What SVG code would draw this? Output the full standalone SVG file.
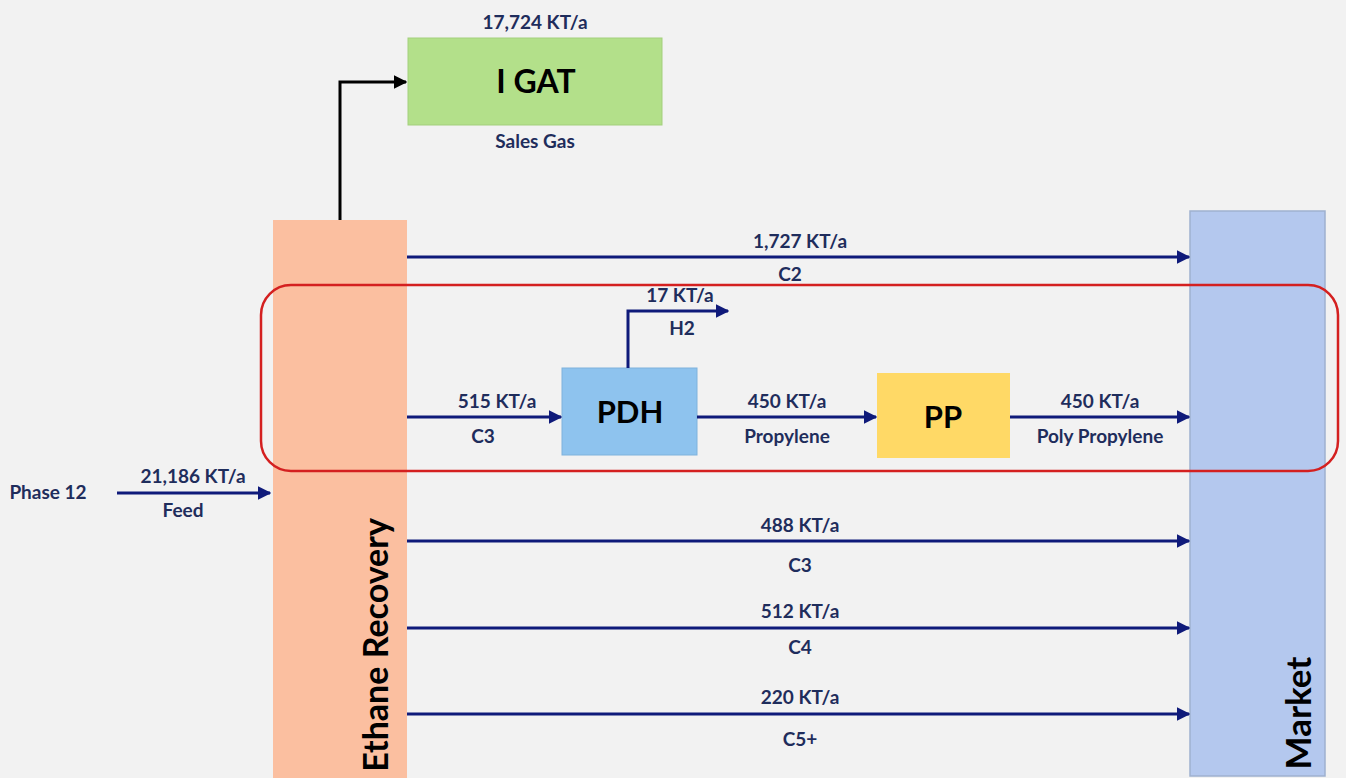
<svg xmlns="http://www.w3.org/2000/svg" width="1346" height="778" viewBox="0 0 1346 778">
<defs>
<marker id="ah" viewBox="0 0 10 10" refX="9" refY="5" markerWidth="4.5" markerHeight="4.5" orient="auto" markerUnits="strokeWidth"><path d="M0,0 L10,5 L0,10 z" fill="#0f1a7a"/></marker>
<marker id="ahk" viewBox="0 0 10 10" refX="9" refY="5" markerWidth="4.5" markerHeight="4.5" orient="auto" markerUnits="strokeWidth"><path d="M0,0 L10,5 L0,10 z" fill="#000"/></marker>
<style>
.lbl{font-family:Lato,"Open Sans","Liberation Sans",sans-serif;font-weight:bold;font-size:19px;fill:#1f2d5c;text-anchor:middle}
.big{font-family:Lato,"Open Sans","Liberation Sans",sans-serif;font-weight:bold;fill:#000;text-anchor:middle}
.flow{stroke:#0f1a7a;stroke-width:3;fill:none;marker-end:url(#ah)}
</style>
</defs>
<rect width="1346" height="778" fill="#f2f2f2"/>
<g id="ethane-recovery">
<rect x="273" y="220" width="134" height="560" fill="#fbbfa0"/>
<text class="big" font-size="34" transform="translate(388,645) rotate(-90)">Ethane Recovery</text>
</g>
<g id="market">
<rect x="1190" y="211" width="135" height="565" fill="#b4c8ee" stroke="#9fb1cf" stroke-width="1.5"/>
<text class="big" font-size="35" transform="translate(1311,713) rotate(-90)">Market</text>
</g>
<g id="igat">
<rect x="408" y="38" width="254" height="87" fill="#b3e08a" stroke="#a3cf7c" stroke-width="1"/>
<text class="big" font-size="32" x="536" y="93">I GAT</text>
</g>
<g id="pdh">
<rect x="562" y="368" width="135" height="87" fill="#8ec3ee" stroke="#7fb2dc" stroke-width="1"/>
<text class="big" font-size="31" x="630" y="423">PDH</text>
</g>
<g id="pp">
<rect x="877" y="373" width="133" height="85" fill="#ffd966"/>
<text class="big" font-size="31" x="943" y="428">PP</text>
</g>
<g id="phase12">
<text class="lbl" x="48" y="499">Phase 12</text>
</g>
<g id="connectors">
<path d="M340,220 V82 H406" stroke="#000" stroke-width="3" fill="none" marker-end="url(#ahk)"/>
<path class="flow" d="M117,493 H270"/>
<path class="flow" d="M407,257 H1189"/>
<path class="flow" d="M407,417 H561"/>
<path class="flow" d="M628,368 V311 H728"/>
<path class="flow" d="M697,417 H876"/>
<path class="flow" d="M1010,417 H1189"/>
<path class="flow" d="M407,541 H1189"/>
<path class="flow" d="M407,628 H1189"/>
<path class="flow" d="M407,714 H1189"/>
</g>
<g id="labels">
<text class="lbl" x="535" y="29">17,724 KT/a</text>
<text class="lbl" x="535" y="148">Sales Gas</text>
<text class="lbl" x="193" y="483">21,186 KT/a</text>
<text class="lbl" x="183" y="517">Feed</text>
<text class="lbl" x="800" y="248">1,727 KT/a</text>
<text class="lbl" x="790" y="281">C2</text>
<text class="lbl" x="680" y="302">17 KT/a</text>
<text class="lbl" x="682" y="335">H2</text>
<text class="lbl" x="497" y="408">515 KT/a</text>
<text class="lbl" x="483" y="443">C3</text>
<text class="lbl" x="787" y="408">450 KT/a</text>
<text class="lbl" x="787" y="443">Propylene</text>
<text class="lbl" x="1100" y="408">450 KT/a</text>
<text class="lbl" x="1100" y="443">Poly Propylene</text>
<text class="lbl" x="800" y="532">488 KT/a</text>
<text class="lbl" x="800" y="572">C3</text>
<text class="lbl" x="800" y="618">512 KT/a</text>
<text class="lbl" x="800" y="654">C4</text>
<text class="lbl" x="800" y="704">220 KT/a</text>
<text class="lbl" x="800" y="746">C5+</text>
</g>
<rect id="highlight" x="261" y="285" width="1077" height="186" rx="30" ry="30" fill="none" stroke="#d42020" stroke-width="2.5"/>
</svg>
